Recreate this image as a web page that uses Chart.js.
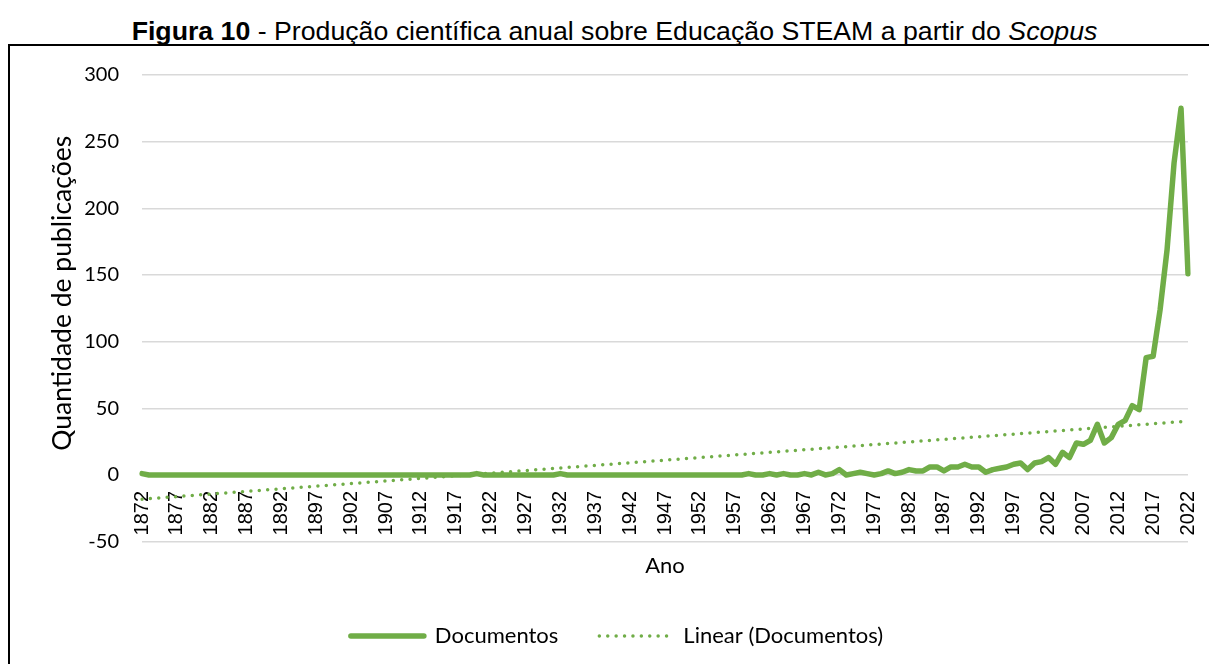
<!DOCTYPE html>
<html>
<head>
<meta charset="utf-8">
<script src="https://cdn.jsdelivr.net/npm/chart.js@4/dist/chart.umd.min.js"></script>
<style>
  html, body { margin: 0; padding: 0; background: #fff; width: 1209px; height: 664px; overflow: hidden; }
  #title { position: absolute; left: 20px; right: 0; top: 16px; text-align: center; line-height: 30px;
           font-family: "Liberation Sans", Arial, sans-serif; font-size: 26.7px; color: #000; white-space: nowrap; }
  #frame { position: absolute; left: 8px; top: 44px; width: 1300px; height: 700px;
           border-left: 2px solid #000; border-top: 2px solid #000; }
  #wrap { position: absolute; left: 10px; top: 47px; width: 1199px; height: 617px; }
</style>
</head>
<body>
<div id="title"><b>Figura 10</b> - Produção científica anual sobre Educação STEAM a partir do <i>Scopus</i></div>
<div id="frame"></div>
<div id="wrap"><canvas id="c"></canvas></div>
<script>
const years = [
  '1872','1873','1874','1875','1876','1877','1878','1879',
  '1880','1881','1882','1883','1884','1885','1886','1887','1888','1889',
  '1890','1891','1892','1893','1894','1895','1896','1897','1898','1899',
  '1900','1901','1902','1903','1904','1905','1906','1907','1908','1909',
  '1910','1911','1912','1913','1914','1915','1916','1917','1918','1919',
  '1920','1921','1922','1923','1924','1925','1926','1927','1928','1929',
  '1930','1931','1932','1933','1934','1935','1936','1937','1938','1939',
  '1940','1941','1942','1943','1944','1945','1946','1947','1948','1949',
  '1950','1951','1952','1953','1954','1955','1956','1957','1958','1959',
  '1960','1961','1962','1963','1964','1965','1966','1967','1968','1969',
  '1970','1971','1972','1973','1974','1975','1976','1977','1978','1979',
  '1980','1981','1982','1983','1984','1985','1986','1987','1988','1989',
  '1990','1991','1992','1993','1994','1995','1996','1997','1998','1999',
  '2000','2001','2002','2003','2004','2005','2006','2007','2008','2009',
  '2010','2011','2012','2013','2014','2015','2016','2017','2018','2019',
  '2020','2021','2022'
];
const documentos = [
  1,0,0,0,0,0,0,0,
  0,0,0,0,0,0,0,0,0,0,
  0,0,0,0,0,0,0,0,0,0,
  0,0,0,0,0,0,0,0,0,0,
  0,0,0,0,0,0,0,0,0,0,
  1,0,0,0,0,0,0,0,0,0,
  0,0,1,0,0,0,0,0,0,0,
  0,0,0,0,0,0,0,0,0,0,
  0,0,0,0,0,0,0,0,0,1,
  0,0,1,0,1,0,0,1,0,2,
  0,1,4,0,1,2,1,0,1,3,
  1,2,4,3,3,6,6,3,6,6,
  8,6,6,2,4,5,6,8,9,4,
  9,10,13,8,17,13,24,23,26,38,
  24,28,38,41,52,49,88,89,124,169,
  234,275,151
];
const trendYears = ['1872', '2022'];
const trendValues = [-18.2, 40.4];
const tickYears = ['1872','1877','1882','1887','1892','1897','1902','1907','1912','1917',
  '1922','1927','1932','1937','1942','1947','1952','1957','1962','1967','1972','1977',
  '1982','1987','1992','1997','2002','2007','2012','2017','2022'];
const yTicks = [-50, 0, 50, 100, 150, 200, 250, 300];
const yAxisTitle = 'Quantidade de publicações';

const green = '#70ad47';
const uiFont = 'Lato, "Open Sans", sans-serif';

const yTitlePlugin = {
  id: 'yTitle',
  afterDraw(chart) {
    const ctx = chart.ctx;
    const area = chart.chartArea;
    ctx.save();
    ctx.translate(52, (area.top + area.bottom) / 2 - 15);
    ctx.rotate(-Math.PI / 2);
    ctx.textAlign = 'center';
    ctx.textBaseline = 'middle';
    ctx.fillStyle = '#000';
    ctx.font = '26.5px ' + uiFont;
    ctx.fillText(yAxisTitle, 0, 0);
    ctx.restore();
  }
};

new Chart(document.getElementById('c'), {
  type: 'line',
  data: {
    labels: years,
    datasets: [
      {
        label: 'Documentos',
        data: documentos,
        borderColor: green,
        backgroundColor: green,
        borderWidth: 5.5,
        borderJoinStyle: 'round',
        borderCapStyle: 'round',
        pointRadius: 0,
        pointStyle: 'line',
        tension: 0,
        fill: false
      },
      {
        label: 'Linear (Documentos)',
        data: trendYears.map((y, i) => ({ x: y, y: trendValues[i] })),
        borderColor: green,
        backgroundColor: green,
        borderWidth: 3.5,
        borderDash: [0, 8.4],
        borderCapStyle: 'round',
        pointRadius: 0,
        pointStyle: 'line',
        tension: 0,
        fill: false
      }
    ]
  },
  plugins: [yTitlePlugin],
  options: {
    responsive: true,
    maintainAspectRatio: false,
    animation: false,
    layout: { padding: { left: 36, right: 21, top: 28, bottom: 7 } },
    scales: {
      x: {
        type: 'category',
        position: { y: 0 },
        offset: false,
        afterFit: (scale) => { scale.paddingLeft = 0; scale.paddingRight = 0; },
        grid: { display: false, drawTicks: false },
        border: { display: false },
        ticks: {
          autoSkip: false,
          minRotation: 90,
          maxRotation: 90,
          padding: 16,
          color: '#000',
          font: { family: '"Liberation Sans", Arial, sans-serif', size: 20 },
          callback: function (value, index) {
            const lab = this.getLabelForValue(value);
            return tickYears.includes(lab) ? lab : null;
          }
        }
      },
      y: {
        min: -50,
        max: 300,
        afterBuildTicks: (scale) => { scale.ticks = yTicks.map(v => ({ value: v })); },
        afterFit: (scale) => { scale.width = 96; scale.paddingTop = 0; scale.paddingBottom = 0; },
        grid: { color: '#d9d9d9', lineWidth: 1.5, drawTicks: false },
        border: { display: false },
        ticks: {
          padding: 23,
          color: '#000',
          font: { family: uiFont, size: 20 }
        }
      }
    },
    plugins: {
      title: {
        display: true,
        text: 'Ano',
        position: 'bottom',
        fullSize: false,
        weight: 500,
        color: '#000',
        font: { family: uiFont, size: 22, weight: 'normal' },
        padding: { top: 11, bottom: 5 }
      },
      legend: {
        position: 'bottom',
        weight: 2000,
        labels: {
          usePointStyle: true,
          pointStyleWidth: 73,
          boxHeight: 22,
          padding: 41,
          color: '#000',
          font: { family: uiFont, size: 22 },
          generateLabels: (chart) => {
            const items = Chart.defaults.plugins.legend.labels.generateLabels(chart);
            items.forEach(item => {
              const ds = chart.data.datasets[item.datasetIndex];
              item.lineDash = ds.borderDash || [];
              item.lineCap = ds.borderCapStyle || 'butt';
              item.lineWidth = ds.borderWidth;
              item.strokeStyle = ds.borderColor;
              item.fillStyle = ds.borderColor;
            });
            return items;
          }
        }
      },
      tooltip: { enabled: false }
    }
  }
});
</script>
</body>
</html>
